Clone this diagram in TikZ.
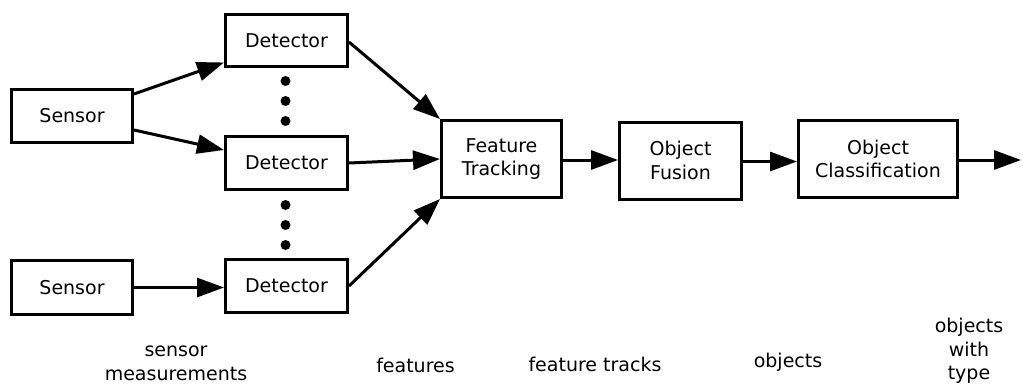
\documentclass[tikz,border=0pt]{standalone}
\usepackage{fontspec}
\setmainfont{DejaVu Sans}
\usetikzlibrary{arrows.meta}

\tikzset{
  blockbox/.style={draw, line width=3pt, rectangle, inner sep=0pt, align=center,
                   font=\fontsize{19}{23.5}\selectfont},
  flow/.style={line width=3pt, -{Triangle[length=27pt,width=19pt]}},
  caption/.style={align=center, inner sep=0pt, font=\fontsize{19}{23.5}\selectfont},
  dotmark/.style={fill=black}
}

\begin{document}
\begin{tikzpicture}[x=1pt,y=-1pt]
  \useasboundingbox (0,0) rectangle (1023,388);

  % sensors
  \node[blockbox, minimum width=121pt, minimum height=53pt] (sen1) at (72,116) {Sensor};
  \node[blockbox, minimum width=121pt, minimum height=54pt] (sen2) at (72,287.5) {Sensor};

  % detectors
  \node[blockbox, minimum width=122pt, minimum height=52pt] (det1) at (286.5,40.5) {Detector};
  \node[blockbox, minimum width=122pt, minimum height=53pt] (det2) at (286.5,163) {Detector};
  \node[blockbox, minimum width=122pt, minimum height=53pt] (det3) at (286.5,286) {Detector};

  % processing chain
  \node[blockbox, minimum width=120pt, minimum height=77pt] (ft) at (501.5,159) {Feature\\Tracking};
  \node[blockbox, minimum width=122pt, minimum height=77pt] (of) at (680.5,160.5) {Object\\Fusion};
  \node[blockbox, minimum width=159pt, minimum height=77pt] (oc) at (878,159) {Object\\Classification};
  \coordinate (out) at (1021,160);

  % ellipsis dots between detectors
  \foreach \yy in {81,101,121,205,225,245}
    \fill[dotmark] (285.5,\yy) circle (5pt);

  % connections
  \draw[flow] ([yshift=22pt]sen1.east) -- ([yshift=-22pt]det1.west);
  \draw[flow] ([yshift=-14pt]sen1.east) -- ([yshift=13pt]det2.west);
  \draw[flow] (sen2.east) -- (sen2.east -| det3.west);
  \draw[flow] ([yshift=-1.5pt]det1.east) -- (ft.north west);
  \draw[flow] (det2.east) -- (ft.west);
  \draw[flow] (det3.east) -- (ft.south west);
  \draw[flow] ([yshift=-1pt]ft.east) -- ([yshift=-1pt]ft.east -| of.west);
  \draw[flow] ([yshift=-1pt]of.east) -- ([yshift=-1pt]of.east -| oc.west);
  \draw[flow] ([yshift=-1pt]oc.east) -- (out);

  % data labels
  \node[caption] (lsm) at (176,363.5) {sensor\\measurements};
  \node[caption] (lf)  at (415.5,365) {features};
  \node[caption] (lft) at (595,364) {feature tracks};
  \node[caption] (lo)  at (788,362) {objects};
  \node[caption] (low) at (969,351) {objects\\with\\type};
\end{tikzpicture}
\end{document}
